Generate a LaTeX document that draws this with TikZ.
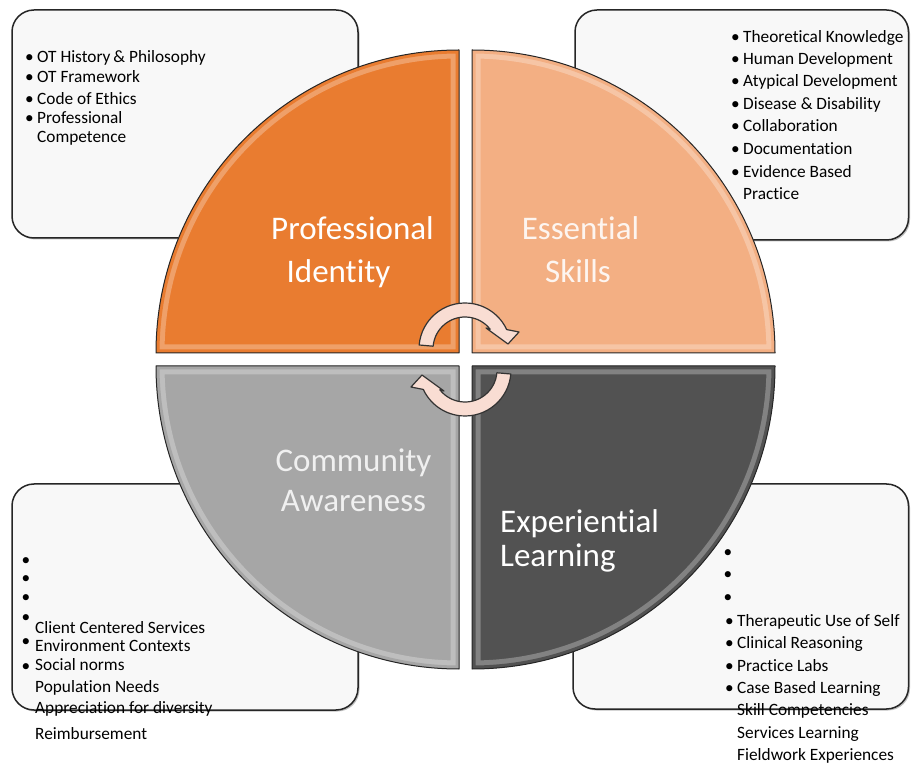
\documentclass[tikz,border=0pt]{standalone}
\usepackage{fontspec}
\setmainfont{Carlito}[Ligatures=NoCommon]
\usetikzlibrary{shadows}
\definecolor{qOrange}{HTML}{E97C30}
\definecolor{qPeach}{HTML}{F3AF83}
\definecolor{qGray}{HTML}{A6A6A6}
\definecolor{qDark}{HTML}{525252}
\definecolor{arrowPink}{HTML}{F9DDD3}
\definecolor{boxFill}{HTML}{F8F8F8}
\newcommand\drawquad[2]{%
  \fill[#1] #2;
  \begin{scope}
    \clip #2;
    \draw[white, opacity=0.28, line width=17pt] #2;
    \draw[#1, line width=7pt] #2;
  \end{scope}
  \draw[black!85, line width=1pt, line join=round] #2;
}
\newcommand\bl{\makebox[12pt][l]{•}}
\begin{document}
\begin{tikzpicture}[x=1pt,y=1pt,
  infobox/.style={draw=black!85, line width=1.5pt, fill=boxFill, rounded corners=22pt,
    drop shadow={shadow xshift=1.5pt,shadow yshift=-1.5pt,opacity=0.25,fill=black}},
  boxtext/.style={anchor=base west, inner sep=0pt, font=\fontsize{17.3}{20}\selectfont, text=black},
  bul/.style={anchor=base, inner sep=0pt, font=\fontsize{17.3}{20}\selectfont, text=black},
  qlabel/.style={anchor=base, inner sep=0pt, font=\fontsize{33}{40}\selectfont},
  cyc/.style={fill=arrowPink, draw=black!80, line width=1.2pt, line join=round},
]
\useasboundingbox (0,0) rectangle (911,764);
\fill[white] (0,0) rectangle (911,764);

% info boxes
\draw[infobox] (12,526) rectangle (358,754);
\draw[infobox] (575,524) rectangle (908.5,754);
\draw[infobox] (12,54) rectangle (358,280);
\draw[infobox] (573,55) rectangle (908.5,280);

% top-left text
\node[boxtext] (tl1) at (25,701) {\bl OT History\,\& Philosophy};
\node[boxtext] (tl2) at (25,681) {\bl OT Framework};
\node[boxtext] (tl3) at (25,659) {\bl Code of Ethics};
\node[boxtext] (tl4) at (25,640) {\bl Professional};
\node[boxtext] (tl5) at (37,621) {Competence};

% top-right text
\node[boxtext] (tr1) at (731,721) {\bl Theoretical Knowledge};
\node[boxtext] (tr2) at (731,699) {\bl Human Development};
\node[boxtext] (tr3) at (731,677) {\bl Atypical Development};
\node[boxtext] (tr4) at (731,654) {\bl Disease \& Disability};
\node[boxtext] (tr5) at (731,632) {\bl Collaboration};
\node[boxtext] (tr6) at (731,609) {\bl Documentation};
\node[boxtext] (tr7) at (731,586) {\bl Evidence Based};
\node[boxtext] (tr8) at (743,564) {Practice};

% bottom-left text
\node[bul] (blb1) at (26,198.5) {•};
\node[bul] (blb2) at (26,180.5) {•};
\node[bul] (blb3) at (26,161.5) {•};
\node[bul] (blb4) at (26,141.5) {•};
\node[bul] (blb5) at (26,117.5) {•};
\node[bul] (blb6) at (26,92.5) {•};
\node[boxtext] (bl1) at (35,131) {Client Centered Services};
\node[boxtext] (bl2) at (35,113) {Environment Contexts};
\node[boxtext] (bl3) at (35,94) {Social norms};
\node[boxtext] (bl4) at (35,72) {Population Needs};
\node[boxtext] (bl5) at (35,51) {Appreciation for diversity};
\node[boxtext] (bl6) at (35,25) {Reimbursement};

% bottom-right text
\node[bul] (brb1) at (728,206.5) {•};
\node[bul] (brb2) at (728,184.5) {•};
\node[bul] (brb3) at (728,161.5) {•};
\node[boxtext] (br1) at (725,138) {\bl Therapeutic Use of Self};
\node[boxtext] (br2) at (725,116) {\bl Clinical Reasoning};
\node[boxtext] (br3) at (725,93) {\bl Practice Labs};
\node[boxtext] (br4) at (725,71) {\bl Case Based Learning};
\node[boxtext] (br5) at (737,49) {Skill Competencies};
\node[boxtext] (br6) at (737,26) {Services Learning};
\node[boxtext] (br7) at (737,4) {Fieldwork Experiences};

% quadrants
\drawquad{qOrange}{(459,411) -- (156,411) arc[start angle=180,end angle=90,radius=303] -- cycle}
\drawquad{qPeach}{(472,411) -- (472,714) arc[start angle=90,end angle=0,radius=303] -- cycle}
\drawquad{qGray}{(459,398) -- (156,398) arc[start angle=180,end angle=270,radius=303] -- cycle}
\drawquad{qDark}{(472,398) -- (775,398) arc[start angle=0,end angle=-90,radius=303] -- cycle}

% quadrant labels
\node[qlabel, text=white] (pi1) at (352.5,524) {Professional};
\node[qlabel, text=white] (pi2) at (338.5,481) {Identity};
\node[qlabel, text=white!88!qPeach] (es1) at (580.5,524) {Essential};
\node[qlabel, text=white!88!qPeach] (es2) at (578,481) {Skills};
\node[qlabel, text=black!6] (ca1) at (353.5,292) {Community};
\node[qlabel, text=black!6] (ca2) at (353.5,252) {Awareness};
\node[qlabel, text=white, anchor=base west] (el1) at (500,231) {Experiential};
\node[qlabel, text=white, anchor=base west] (el2) at (500,197) {Learning};

% cycle arrows
\draw[cyc, shift={(465,415)}] (175:46) arc[start angle=175,end angle=25,radius=46]
  -- (54,17) -- (43,5) -- (21,21) -- (38:32) arc[start angle=38,end angle=175,radius=32] -- cycle;
\draw[cyc, shift={(465,394)}, rotate=180] (175:46) arc[start angle=175,end angle=25,radius=46]
  -- (54,17) -- (43,5) -- (21,21) -- (38:32) arc[start angle=38,end angle=175,radius=32] -- cycle;
\end{tikzpicture}
\end{document}
